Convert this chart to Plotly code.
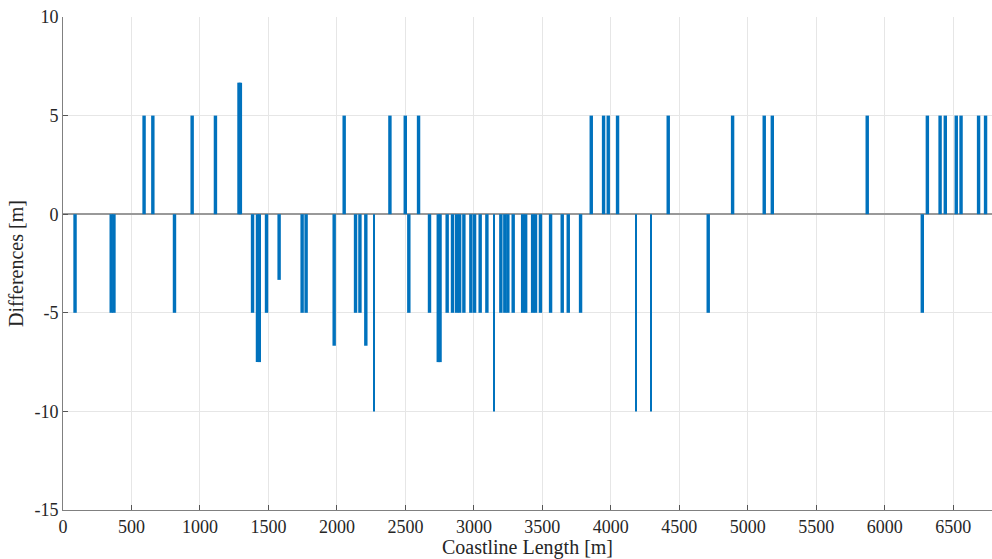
import plotly.graph_objects as go

# Positions along the coastline [m] and differences [m]
bar_x = [88, 352, 372, 592, 656, 814, 943, 1113, 1285, 1295, 1384, 1420, 1433,
         1486, 1578, 1746, 1775, 1980, 2053, 2136, 2168, 2211, 2387, 2499, 2525,
         2596, 2676, 2740, 2753, 2805, 2844, 2874, 2896, 2927, 2978, 3005, 3046,
         3095, 3197, 3226, 3248, 3287, 3356, 3378, 3429, 3450, 3486, 3560, 3645,
         3689, 3779, 3857, 3947, 3981, 4049, 4419, 4711, 4889, 5120, 5179, 5872,
         6274, 6311, 6404, 6442, 6522, 6557, 6685, 6736]
bar_y = [-5, -5, -5, 5, 5, -5, 5, 5, 6.67, 6.67, -5, -7.5, -7.5,
         -5, -3.33, -5, -5, -6.67, 5, -5, -5, -6.67, 5, 5, -5,
         5, -5, -7.5, -7.5, -5, -5, -5, -5, -5, -5, -5, -5,
         -5, -5, -5, -5, -5, -5, -5, -5, -5, -5, -5, -5,
         -5, -5, 5, 5, 5, 5, 5, -5, 5, 5, 5, 5,
         -5, 5, 5, 5, 5, 5, 5, 5]

# single-sample spikes (narrow)
spike_x = [2270, 3144, 4185, 4295]
spike_y = [-10, -10, -10, -10]

x_ticks = list(range(0, 7000, 500))
y_ticks = [-15, -10, -5, 0, 5, 10]

BLUE = "#0072BD"
TXT = "#262626"
font = "Liberation Serif, Times New Roman, serif"

fig = go.Figure()
fig.add_trace(go.Bar(x=bar_x, y=bar_y, width=25, marker=dict(color=BLUE, line=dict(width=0)),
                     showlegend=False))
fig.add_trace(go.Bar(x=spike_x, y=spike_y, width=7, marker=dict(color=BLUE, line=dict(width=0)),
                     showlegend=False))

fig.update_layout(
    width=992, height=559,
    margin=dict(l=63, r=0, t=17, b=49, autoexpand=False),
    plot_bgcolor="white", paper_bgcolor="white",
    barmode="overlay",
    font=dict(family=font, size=18, color=TXT),
    xaxis=dict(
        range=[0, 6783], tickvals=x_ticks, ticktext=[str(v) for v in x_ticks],
        automargin=True,
        showgrid=True, gridcolor="#e6e6e6", gridwidth=1,
        showline=True, linecolor="#808080", linewidth=1,
        ticks="inside", ticklen=5, tickcolor="#555555",
        zeroline=False,
        title=dict(text="Coastline Length [m]", font=dict(size=20, family=font, color=TXT), standoff=3),
        tickfont=dict(size=18, family=font, color=TXT),
    ),
    yaxis=dict(
        range=[-15, 10], tickvals=y_ticks, ticktext=[str(v) for v in y_ticks],
        automargin=True,
        showgrid=True, gridcolor="#e6e6e6", gridwidth=1,
        showline=True, linecolor="#808080", linewidth=1,
        ticks="inside", ticklen=5, tickcolor="#555555",
        zeroline=True, zerolinecolor="#999999", zerolinewidth=1.5,
        title=dict(text="Differences [m]", font=dict(size=20, family=font, color=TXT), standoff=5),
        tickfont=dict(size=18, family=font, color=TXT),
    ),
)

fig.write_html("out.html", config={"displayModeBar": False},
               post_script="document.body.style.margin='0';document.body.style.overflow='hidden';")
